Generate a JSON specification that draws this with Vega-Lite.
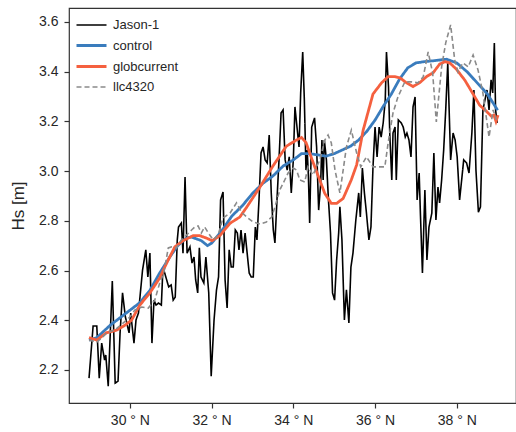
{
  "$schema": "https://vega.github.io/schema/vega-lite/v6.json",
  "width": 447,
  "height": 395,
  "autosize": "none",
  "padding": {"left": 69, "top": 8, "right": 0, "bottom": 29},
  "config": {
    "font": "Liberation Sans",
    "view": {"stroke": "#333333", "strokeWidth": 1.2},
    "axis": {"grid": false, "domain": false, "tickColor": "#333333", "tickSize": 5, "tickWidth": 1.2, "labelColor": "#262626", "labelFontSize": 14, "titleColor": "#262626", "titleFontWeight": "normal"}
  },
  "data": {"values": [
    {"s":"Jason-1","lat":29.00,"hs":2.167},{"s":"Jason-1","lat":29.10,"hs":2.377},{"s":"Jason-1","lat":29.19,"hs":2.377},{"s":"Jason-1","lat":29.25,"hs":2.167},{"s":"Jason-1","lat":29.31,"hs":2.308},{"s":"Jason-1","lat":29.38,"hs":2.240},{"s":"Jason-1","lat":29.41,"hs":2.260},{"s":"Jason-1","lat":29.47,"hs":2.135},{"s":"Jason-1","lat":29.57,"hs":2.558},{"s":"Jason-1","lat":29.64,"hs":2.147},{"s":"Jason-1","lat":29.71,"hs":2.155},{"s":"Jason-1","lat":29.76,"hs":2.349},{"s":"Jason-1","lat":29.82,"hs":2.510},{"s":"Jason-1","lat":29.89,"hs":2.413},{"s":"Jason-1","lat":29.98,"hs":2.349},{"s":"Jason-1","lat":30.02,"hs":2.429},{"s":"Jason-1","lat":30.10,"hs":2.308},{"s":"Jason-1","lat":30.15,"hs":2.401},{"s":"Jason-1","lat":30.21,"hs":2.429},{"s":"Jason-1","lat":30.31,"hs":2.602},{"s":"Jason-1","lat":30.39,"hs":2.683},{"s":"Jason-1","lat":30.44,"hs":2.574},{"s":"Jason-1","lat":30.49,"hs":2.670},{"s":"Jason-1","lat":30.54,"hs":2.308},{"s":"Jason-1","lat":30.59,"hs":2.481},{"s":"Jason-1","lat":30.64,"hs":2.461},{"s":"Jason-1","lat":30.70,"hs":2.469},{"s":"Jason-1","lat":30.77,"hs":2.461},{"s":"Jason-1","lat":30.81,"hs":2.614},{"s":"Jason-1","lat":30.88,"hs":2.574},{"s":"Jason-1","lat":30.95,"hs":2.534},{"s":"Jason-1","lat":31.01,"hs":2.542},{"s":"Jason-1","lat":31.06,"hs":2.481},{"s":"Jason-1","lat":31.11,"hs":2.493},{"s":"Jason-1","lat":31.16,"hs":2.723},{"s":"Jason-1","lat":31.19,"hs":2.775},{"s":"Jason-1","lat":31.26,"hs":2.791},{"s":"Jason-1","lat":31.30,"hs":2.670},{"s":"Jason-1","lat":31.35,"hs":2.976},{"s":"Jason-1","lat":31.40,"hs":2.670},{"s":"Jason-1","lat":31.47,"hs":2.695},{"s":"Jason-1","lat":31.52,"hs":2.630},{"s":"Jason-1","lat":31.57,"hs":2.654},{"s":"Jason-1","lat":31.61,"hs":2.562},{"s":"Jason-1","lat":31.66,"hs":2.510},{"s":"Jason-1","lat":31.70,"hs":2.691},{"s":"Jason-1","lat":31.74,"hs":2.574},{"s":"Jason-1","lat":31.81,"hs":2.550},{"s":"Jason-1","lat":31.86,"hs":2.654},{"s":"Jason-1","lat":31.93,"hs":2.510},{"s":"Jason-1","lat":31.99,"hs":2.175},{"s":"Jason-1","lat":32.06,"hs":2.401},{"s":"Jason-1","lat":32.12,"hs":2.522},{"s":"Jason-1","lat":32.17,"hs":2.574},{"s":"Jason-1","lat":32.22,"hs":2.884},{"s":"Jason-1","lat":32.28,"hs":2.916},{"s":"Jason-1","lat":32.33,"hs":2.562},{"s":"Jason-1","lat":32.38,"hs":2.449},{"s":"Jason-1","lat":32.43,"hs":2.683},{"s":"Jason-1","lat":32.48,"hs":2.614},{"s":"Jason-1","lat":32.53,"hs":2.614},{"s":"Jason-1","lat":32.58,"hs":2.763},{"s":"Jason-1","lat":32.63,"hs":2.751},{"s":"Jason-1","lat":32.67,"hs":2.683},{"s":"Jason-1","lat":32.72,"hs":2.763},{"s":"Jason-1","lat":32.77,"hs":2.670},{"s":"Jason-1","lat":32.82,"hs":2.751},{"s":"Jason-1","lat":32.87,"hs":2.670},{"s":"Jason-1","lat":32.92,"hs":2.590},{"s":"Jason-1","lat":32.97,"hs":2.574},{"s":"Jason-1","lat":33.02,"hs":2.574},{"s":"Jason-1","lat":33.07,"hs":2.775},{"s":"Jason-1","lat":33.11,"hs":2.723},{"s":"Jason-1","lat":33.16,"hs":2.884},{"s":"Jason-1","lat":33.21,"hs":3.073},{"s":"Jason-1","lat":33.26,"hs":3.097},{"s":"Jason-1","lat":33.31,"hs":3.045},{"s":"Jason-1","lat":33.36,"hs":3.033},{"s":"Jason-1","lat":33.41,"hs":3.145},{"s":"Jason-1","lat":33.46,"hs":2.912},{"s":"Jason-1","lat":33.51,"hs":2.763},{"s":"Jason-1","lat":33.55,"hs":2.711},{"s":"Jason-1","lat":33.60,"hs":2.884},{"s":"Jason-1","lat":33.65,"hs":3.045},{"s":"Jason-1","lat":33.70,"hs":3.234},{"s":"Jason-1","lat":33.75,"hs":3.246},{"s":"Jason-1","lat":33.80,"hs":3.045},{"s":"Jason-1","lat":33.85,"hs":3.004},{"s":"Jason-1","lat":33.90,"hs":3.057},{"s":"Jason-1","lat":33.95,"hs":2.912},{"s":"Jason-1","lat":34.00,"hs":3.045},{"s":"Jason-1","lat":34.04,"hs":3.258},{"s":"Jason-1","lat":34.09,"hs":3.177},{"s":"Jason-1","lat":34.14,"hs":3.097},{"s":"Jason-1","lat":34.18,"hs":3.314},{"s":"Jason-1","lat":34.23,"hs":3.479},{"s":"Jason-1","lat":34.27,"hs":3.286},{"s":"Jason-1","lat":34.31,"hs":3.004},{"s":"Jason-1","lat":34.34,"hs":3.085},{"s":"Jason-1","lat":34.37,"hs":2.976},{"s":"Jason-1","lat":34.40,"hs":2.791},{"s":"Jason-1","lat":34.45,"hs":3.177},{"s":"Jason-1","lat":34.52,"hs":3.214},{"s":"Jason-1","lat":34.57,"hs":3.097},{"s":"Jason-1","lat":34.62,"hs":2.843},{"s":"Jason-1","lat":34.67,"hs":2.952},{"s":"Jason-1","lat":34.70,"hs":3.125},{"s":"Jason-1","lat":34.73,"hs":2.964},{"s":"Jason-1","lat":34.76,"hs":3.125},{"s":"Jason-1","lat":34.81,"hs":3.045},{"s":"Jason-1","lat":34.86,"hs":2.884},{"s":"Jason-1","lat":34.91,"hs":2.751},{"s":"Jason-1","lat":34.96,"hs":2.510},{"s":"Jason-1","lat":35.01,"hs":2.481},{"s":"Jason-1","lat":35.06,"hs":2.642},{"s":"Jason-1","lat":35.11,"hs":2.751},{"s":"Jason-1","lat":35.14,"hs":2.856},{"s":"Jason-1","lat":35.19,"hs":2.723},{"s":"Jason-1","lat":35.25,"hs":2.401},{"s":"Jason-1","lat":35.30,"hs":2.522},{"s":"Jason-1","lat":35.36,"hs":2.389},{"s":"Jason-1","lat":35.41,"hs":2.614},{"s":"Jason-1","lat":35.46,"hs":2.670},{"s":"Jason-1","lat":35.53,"hs":2.803},{"s":"Jason-1","lat":35.60,"hs":2.912},{"s":"Jason-1","lat":35.64,"hs":2.815},{"s":"Jason-1","lat":35.69,"hs":3.012},{"s":"Jason-1","lat":35.74,"hs":2.912},{"s":"Jason-1","lat":35.79,"hs":2.831},{"s":"Jason-1","lat":35.85,"hs":2.723},{"s":"Jason-1","lat":35.90,"hs":2.775},{"s":"Jason-1","lat":35.95,"hs":3.017},{"s":"Jason-1","lat":36.00,"hs":3.177},{"s":"Jason-1","lat":36.05,"hs":3.057},{"s":"Jason-1","lat":36.10,"hs":3.177},{"s":"Jason-1","lat":36.15,"hs":3.137},{"s":"Jason-1","lat":36.20,"hs":3.194},{"s":"Jason-1","lat":36.25,"hs":3.286},{"s":"Jason-1","lat":36.28,"hs":3.479},{"s":"Jason-1","lat":36.33,"hs":3.338},{"s":"Jason-1","lat":36.36,"hs":3.153},{"s":"Jason-1","lat":36.41,"hs":2.964},{"s":"Jason-1","lat":36.44,"hs":3.153},{"s":"Jason-1","lat":36.49,"hs":3.177},{"s":"Jason-1","lat":36.52,"hs":2.964},{"s":"Jason-1","lat":36.57,"hs":3.206},{"s":"Jason-1","lat":36.64,"hs":3.194},{"s":"Jason-1","lat":36.69,"hs":3.177},{"s":"Jason-1","lat":36.74,"hs":3.137},{"s":"Jason-1","lat":36.78,"hs":3.153},{"s":"Jason-1","lat":36.83,"hs":3.125},{"s":"Jason-1","lat":36.88,"hs":3.057},{"s":"Jason-1","lat":36.93,"hs":3.258},{"s":"Jason-1","lat":36.98,"hs":3.298},{"s":"Jason-1","lat":37.03,"hs":2.884},{"s":"Jason-1","lat":37.08,"hs":2.992},{"s":"Jason-1","lat":37.11,"hs":2.831},{"s":"Jason-1","lat":37.16,"hs":2.590},{"s":"Jason-1","lat":37.22,"hs":2.924},{"s":"Jason-1","lat":37.27,"hs":2.642},{"s":"Jason-1","lat":37.32,"hs":2.775},{"s":"Jason-1","lat":37.39,"hs":2.831},{"s":"Jason-1","lat":37.44,"hs":3.073},{"s":"Jason-1","lat":37.49,"hs":2.803},{"s":"Jason-1","lat":37.54,"hs":2.936},{"s":"Jason-1","lat":37.58,"hs":2.872},{"s":"Jason-1","lat":37.63,"hs":2.964},{"s":"Jason-1","lat":37.68,"hs":3.085},{"s":"Jason-1","lat":37.73,"hs":3.246},{"s":"Jason-1","lat":37.78,"hs":3.435},{"s":"Jason-1","lat":37.85,"hs":3.045},{"s":"Jason-1","lat":37.91,"hs":3.153},{"s":"Jason-1","lat":37.96,"hs":3.125},{"s":"Jason-1","lat":38.01,"hs":3.057},{"s":"Jason-1","lat":38.07,"hs":2.884},{"s":"Jason-1","lat":38.12,"hs":2.964},{"s":"Jason-1","lat":38.17,"hs":3.045},{"s":"Jason-1","lat":38.24,"hs":3.033},{"s":"Jason-1","lat":38.30,"hs":2.992},{"s":"Jason-1","lat":38.37,"hs":3.153},{"s":"Jason-1","lat":38.42,"hs":3.326},{"s":"Jason-1","lat":38.47,"hs":3.004},{"s":"Jason-1","lat":38.53,"hs":2.835},{"s":"Jason-1","lat":38.58,"hs":2.856},{"s":"Jason-1","lat":38.64,"hs":3.246},{"s":"Jason-1","lat":38.69,"hs":3.286},{"s":"Jason-1","lat":38.74,"hs":3.326},{"s":"Jason-1","lat":38.79,"hs":3.246},{"s":"Jason-1","lat":38.84,"hs":3.367},{"s":"Jason-1","lat":38.88,"hs":3.314},{"s":"Jason-1","lat":38.92,"hs":3.515},{"s":"Jason-1","lat":38.95,"hs":3.246},{"s":"Jason-1","lat":38.99,"hs":3.194},

    {"s":"control","lat":29.00,"hs":2.32},{"s":"control","lat":29.19,"hs":2.33},{"s":"control","lat":29.52,"hs":2.38},{"s":"control","lat":29.76,"hs":2.41},{"s":"control","lat":29.92,"hs":2.43},{"s":"control","lat":30.24,"hs":2.47},{"s":"control","lat":30.49,"hs":2.52},{"s":"control","lat":30.73,"hs":2.59},{"s":"control","lat":30.98,"hs":2.655},{"s":"control","lat":31.17,"hs":2.70},{"s":"control","lat":31.38,"hs":2.73},{"s":"control","lat":31.5,"hs":2.735},{"s":"control","lat":31.75,"hs":2.72},{"s":"control","lat":31.9,"hs":2.70},{"s":"control","lat":32.0,"hs":2.71},{"s":"control","lat":32.25,"hs":2.76},{"s":"control","lat":32.5,"hs":2.82},{"s":"control","lat":32.75,"hs":2.86},{"s":"control","lat":33.0,"hs":2.91},{"s":"control","lat":33.25,"hs":2.95},{"s":"control","lat":33.5,"hs":2.98},{"s":"control","lat":33.75,"hs":3.02},{"s":"control","lat":34.0,"hs":3.045},{"s":"control","lat":34.2,"hs":3.07},{"s":"control","lat":34.4,"hs":3.07},{"s":"control","lat":34.6,"hs":3.065},{"s":"control","lat":34.8,"hs":3.06},{"s":"control","lat":35.0,"hs":3.07},{"s":"control","lat":35.2,"hs":3.085},{"s":"control","lat":35.4,"hs":3.10},{"s":"control","lat":35.6,"hs":3.125},{"s":"control","lat":35.8,"hs":3.16},{"s":"control","lat":36.0,"hs":3.205},{"s":"control","lat":36.2,"hs":3.26},{"s":"control","lat":36.4,"hs":3.31},{"s":"control","lat":36.6,"hs":3.37},{"s":"control","lat":36.8,"hs":3.415},{"s":"control","lat":37.0,"hs":3.435},{"s":"control","lat":37.2,"hs":3.44},{"s":"control","lat":37.5,"hs":3.445},{"s":"control","lat":37.75,"hs":3.45},{"s":"control","lat":38.0,"hs":3.435},{"s":"control","lat":38.25,"hs":3.40},{"s":"control","lat":38.5,"hs":3.355},{"s":"control","lat":38.75,"hs":3.31},{"s":"control","lat":39.0,"hs":3.245},

    {"s":"globcurrent","lat":29.00,"hs":2.33},{"s":"globcurrent","lat":29.19,"hs":2.32},{"s":"globcurrent","lat":29.43,"hs":2.35},{"s":"globcurrent","lat":29.67,"hs":2.36},{"s":"globcurrent","lat":29.88,"hs":2.38},{"s":"globcurrent","lat":30.04,"hs":2.40},{"s":"globcurrent","lat":30.24,"hs":2.46},{"s":"globcurrent","lat":30.49,"hs":2.51},{"s":"globcurrent","lat":30.73,"hs":2.57},{"s":"globcurrent","lat":30.90,"hs":2.63},{"s":"globcurrent","lat":31.10,"hs":2.695},{"s":"globcurrent","lat":31.30,"hs":2.72},{"s":"globcurrent","lat":31.55,"hs":2.74},{"s":"globcurrent","lat":31.71,"hs":2.74},{"s":"globcurrent","lat":31.88,"hs":2.73},{"s":"globcurrent","lat":32.01,"hs":2.72},{"s":"globcurrent","lat":32.20,"hs":2.74},{"s":"globcurrent","lat":32.45,"hs":2.79},{"s":"globcurrent","lat":32.69,"hs":2.815},{"s":"globcurrent","lat":32.86,"hs":2.855},{"s":"globcurrent","lat":33.18,"hs":2.935},{"s":"globcurrent","lat":33.50,"hs":3.02},{"s":"globcurrent","lat":33.83,"hs":3.10},{"s":"globcurrent","lat":34.08,"hs":3.125},{"s":"globcurrent","lat":34.20,"hs":3.135},{"s":"globcurrent","lat":34.31,"hs":3.115},{"s":"globcurrent","lat":34.45,"hs":3.05},{"s":"globcurrent","lat":34.61,"hs":2.98},{"s":"globcurrent","lat":34.77,"hs":2.91},{"s":"globcurrent","lat":34.93,"hs":2.87},{"s":"globcurrent","lat":35.06,"hs":2.87},{"s":"globcurrent","lat":35.22,"hs":2.89},{"s":"globcurrent","lat":35.42,"hs":2.965},{"s":"globcurrent","lat":35.55,"hs":3.025},{"s":"globcurrent","lat":35.71,"hs":3.165},{"s":"globcurrent","lat":35.95,"hs":3.31},{"s":"globcurrent","lat":36.16,"hs":3.355},{"s":"globcurrent","lat":36.32,"hs":3.38},{"s":"globcurrent","lat":36.48,"hs":3.38},{"s":"globcurrent","lat":36.61,"hs":3.375},{"s":"globcurrent","lat":36.77,"hs":3.355},{"s":"globcurrent","lat":36.93,"hs":3.34},{"s":"globcurrent","lat":37.09,"hs":3.355},{"s":"globcurrent","lat":37.26,"hs":3.38},{"s":"globcurrent","lat":37.42,"hs":3.395},{"s":"globcurrent","lat":37.58,"hs":3.43},{"s":"globcurrent","lat":37.71,"hs":3.44},{"s":"globcurrent","lat":37.83,"hs":3.435},{"s":"globcurrent","lat":37.99,"hs":3.41},{"s":"globcurrent","lat":38.20,"hs":3.365},{"s":"globcurrent","lat":38.40,"hs":3.31},{"s":"globcurrent","lat":38.56,"hs":3.265},{"s":"globcurrent","lat":38.73,"hs":3.24},{"s":"globcurrent","lat":38.85,"hs":3.22},{"s":"globcurrent","lat":38.91,"hs":3.225},{"s":"globcurrent","lat":38.96,"hs":3.20},{"s":"globcurrent","lat":39.01,"hs":3.225},

    {"s":"llc4320","lat":29.00,"hs":2.320},{"s":"llc4320","lat":29.19,"hs":2.312},{"s":"llc4320","lat":29.31,"hs":2.328},{"s":"llc4320","lat":29.43,"hs":2.349},{"s":"llc4320","lat":29.63,"hs":2.361},{"s":"llc4320","lat":29.84,"hs":2.389},{"s":"llc4320","lat":30.00,"hs":2.413},{"s":"llc4320","lat":30.12,"hs":2.441},{"s":"llc4320","lat":30.29,"hs":2.453},{"s":"llc4320","lat":30.45,"hs":2.449},{"s":"llc4320","lat":30.61,"hs":2.481},{"s":"llc4320","lat":30.73,"hs":2.550},{"s":"llc4320","lat":30.83,"hs":2.590},{"s":"llc4320","lat":30.94,"hs":2.691},{"s":"llc4320","lat":31.02,"hs":2.695},{"s":"llc4320","lat":31.14,"hs":2.691},{"s":"llc4320","lat":31.26,"hs":2.723},{"s":"llc4320","lat":31.39,"hs":2.743},{"s":"llc4320","lat":31.51,"hs":2.763},{"s":"llc4320","lat":31.59,"hs":2.775},{"s":"llc4320","lat":31.67,"hs":2.779},{"s":"llc4320","lat":31.75,"hs":2.751},{"s":"llc4320","lat":31.83,"hs":2.775},{"s":"llc4320","lat":31.92,"hs":2.751},{"s":"llc4320","lat":32.04,"hs":2.723},{"s":"llc4320","lat":32.16,"hs":2.743},{"s":"llc4320","lat":32.28,"hs":2.811},{"s":"llc4320","lat":32.45,"hs":2.831},{"s":"llc4320","lat":32.61,"hs":2.872},{"s":"llc4320","lat":32.73,"hs":2.835},{"s":"llc4320","lat":32.86,"hs":2.815},{"s":"llc4320","lat":33.02,"hs":2.795},{"s":"llc4320","lat":33.18,"hs":2.787},{"s":"llc4320","lat":33.34,"hs":2.795},{"s":"llc4320","lat":33.47,"hs":2.815},{"s":"llc4320","lat":33.55,"hs":2.856},{"s":"llc4320","lat":33.67,"hs":2.924},{"s":"llc4320","lat":33.79,"hs":2.964},{"s":"llc4320","lat":33.87,"hs":2.992},{"s":"llc4320","lat":34.00,"hs":3.012},{"s":"llc4320","lat":34.08,"hs":3.004},{"s":"llc4320","lat":34.16,"hs":2.964},{"s":"llc4320","lat":34.28,"hs":2.956},{"s":"llc4320","lat":34.36,"hs":3.017},{"s":"llc4320","lat":34.48,"hs":2.984},{"s":"llc4320","lat":34.65,"hs":3.045},{"s":"llc4320","lat":34.77,"hs":3.125},{"s":"llc4320","lat":34.85,"hs":3.145},{"s":"llc4320","lat":34.93,"hs":3.113},{"s":"llc4320","lat":35.02,"hs":3.004},{"s":"llc4320","lat":35.14,"hs":2.912},{"s":"llc4320","lat":35.30,"hs":3.097},{"s":"llc4320","lat":35.42,"hs":3.165},{"s":"llc4320","lat":35.55,"hs":3.073},{"s":"llc4320","lat":35.65,"hs":3.017},{"s":"llc4320","lat":35.79,"hs":3.057},{"s":"llc4320","lat":35.95,"hs":3.017},{"s":"llc4320","lat":36.12,"hs":3.017},{"s":"llc4320","lat":36.24,"hs":3.017},{"s":"llc4320","lat":36.32,"hs":3.113},{"s":"llc4320","lat":36.44,"hs":3.234},{"s":"llc4320","lat":36.56,"hs":3.298},{"s":"llc4320","lat":36.73,"hs":3.359},{"s":"llc4320","lat":36.89,"hs":3.359},{"s":"llc4320","lat":37.05,"hs":3.355},{"s":"llc4320","lat":37.18,"hs":3.379},{"s":"llc4320","lat":37.30,"hs":3.479},{"s":"llc4320","lat":37.41,"hs":3.395},{"s":"llc4320","lat":37.50,"hs":3.198},{"s":"llc4320","lat":37.63,"hs":3.419},{"s":"llc4320","lat":37.73,"hs":3.516},{"s":"llc4320","lat":37.85,"hs":3.588},{"s":"llc4320","lat":37.95,"hs":3.447},{"s":"llc4320","lat":38.03,"hs":3.399},{"s":"llc4320","lat":38.15,"hs":3.435},{"s":"llc4320","lat":38.28,"hs":3.419},{"s":"llc4320","lat":38.40,"hs":3.467},{"s":"llc4320","lat":38.52,"hs":3.407},{"s":"llc4320","lat":38.64,"hs":3.314},{"s":"llc4320","lat":38.79,"hs":3.137},{"s":"llc4320","lat":38.89,"hs":3.246},{"s":"llc4320","lat":38.97,"hs":3.206}
  ]},
  "mark": {"type": "line", "clip": true},
  "encoding": {
    "x": {"field": "lat", "type": "quantitative", "scale": {"domain": [28.51, 39.45], "nice": false, "zero": false},
      "axis": {"values": [30, 32, 34, 36, 38], "labelExpr": "datum.value + ' \u00b0 N'", "title": null, "labelPadding": 5}},
    "y": {"field": "hs", "type": "quantitative", "scale": {"domain": [2.067, 3.656], "nice": false, "zero": false},
      "axis": {"values": [2.2, 2.4, 2.6, 2.8, 3.0, 3.2, 3.4, 3.6], "format": ".1f", "title": "Hs [m]", "titleFontSize": 17, "titlePadding": 11, "labelPadding": 6}},
    "color": {"field": "s", "type": "nominal", "title": null,
      "scale": {"domain": ["Jason-1", "control", "globcurrent", "llc4320"], "range": ["#000000", "#3a7cbd", "#f5603f", "#8a8a8a"]},
      "legend": {"orient": "none", "legendX": 11, "legendY": 6, "labelFontSize": 13, "labelColor": "#262626", "symbolType": "M-1.5,0H1.5", "symbolSize": 400, "rowPadding": 2, "labelOffset": 10, "padding": 0}},
    "strokeDash": {"field": "s", "type": "nominal", "title": null,
      "scale": {"type": "ordinal", "domain": ["Jason-1", "control", "globcurrent", "llc4320"], "range": [[1, 0], [1, 0], [1, 0], [5, 3]]}},
    "strokeWidth": {"field": "s", "type": "nominal", "title": null,
      "scale": {"type": "ordinal", "domain": ["Jason-1", "control", "globcurrent", "llc4320"], "range": [1.6, 2.8, 2.8, 1.6]}}
  }
}
